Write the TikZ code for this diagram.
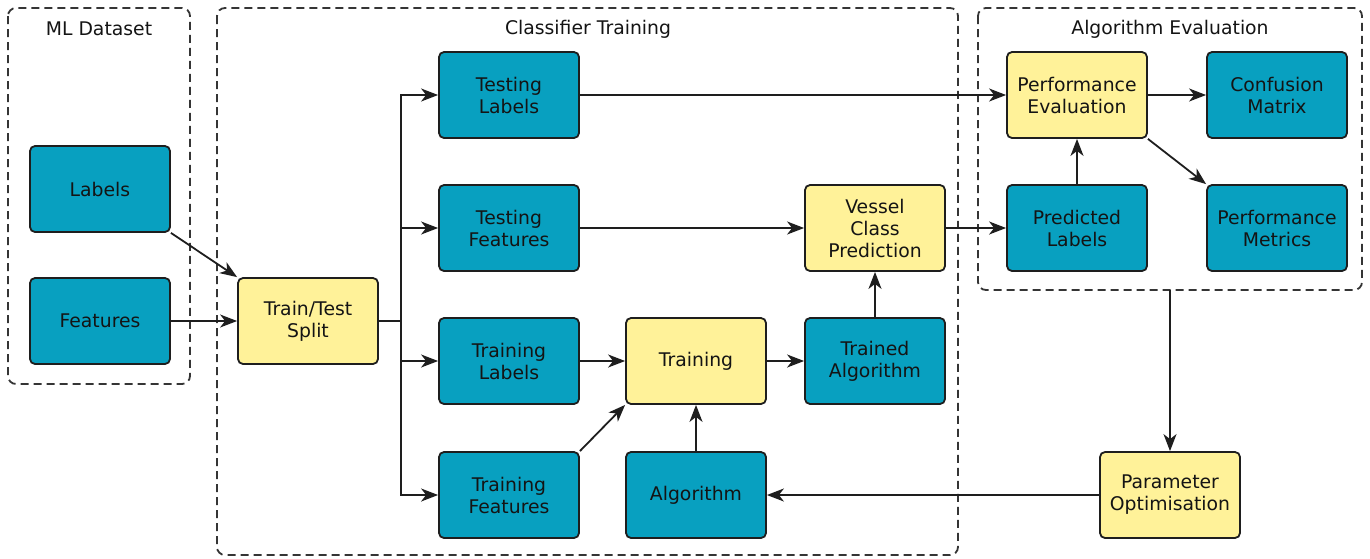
\documentclass[tikz,border=0pt]{standalone}
\usepackage{fontspec}
\setmainfont{DejaVu Sans}
\usetikzlibrary{arrows.meta}
\definecolor{tealbox}{RGB}{8,160,192}
\definecolor{yelbox}{RGB}{255,242,153}
\definecolor{edge}{RGB}{30,30,30}
\tikzset{
  base/.style={draw=edge, line width=1.8pt, rounded corners=5pt, minimum width=140pt, minimum height=86pt, align=center, font=\fontsize{18.8}{22}\selectfont, text=black!92},
  tbox/.style={base, fill=tealbox},
  ybox/.style={base, fill=yelbox},
  frame/.style={draw=edge!90, line width=1.8pt, dash pattern=on 8pt off 5pt, rounded corners=8pt},
  title/.style={font=\fontsize{18.8}{22}\selectfont, text=black!92},
  arr/.style={draw=edge, line width=1.8pt, -{Stealth[length=17pt,width=13pt,inset=5pt]}},
  ln/.style={draw=edge, line width=1.8pt}
}
\begin{document}
\begin{tikzpicture}[x=1pt,y=-1pt]
\useasboundingbox (0,0) rectangle (1370,558);
% frames
\draw[frame] (8,8) rectangle (190,384);
\draw[frame] (217,8) rectangle (958,555);
\draw[frame] (978,8) rectangle (1362,290);
\coordinate (aebot) at (1170,290);
\node[title] (t1) at (99,29) {ML Dataset};
\node[title] (t2) at (588,29) {Classifier Training};
\node[title] (t3) at (1170,29) {Algorithm Evaluation};
% nodes
\node[tbox] (lab) at (100,189) {Labels};
\node[tbox] (fea) at (100,321) {Features};
\node[ybox] (tts) at (308,321) {Train/Test\\Split};
\node[tbox] (tl) at (509,95) {Testing\\Labels};
\node[tbox] (tf) at (509,228) {Testing\\Features};
\node[tbox] (trl) at (509,361) {Training\\Labels};
\node[tbox] (trf) at (509,495) {Training\\Features};
\node[ybox] (tr) at (696,361) {Training};
\node[tbox] (alg) at (696,495) {Algorithm};
\node[tbox] (ta) at (875,361) {Trained\\Algorithm};
\node[ybox] (vcp) at (875,228) {Vessel\\Class\\Prediction};
\node[ybox] (pe) at (1077,95) {Performance\\Evaluation};
\node[tbox] (cm) at (1277,95) {Confusion\\Matrix};
\node[tbox] (pl) at (1077,228) {Predicted\\Labels};
\node[tbox] (pm) at (1277,228) {Performance\\Metrics};
\node[ybox] (po) at (1170,495) {Parameter\\Optimisation};
% connectors
\draw[arr] (lab.south east) -- (tts.north west);
\draw[arr] (fea) -- (tts);
\coordinate (split) at (401,321);
\draw[ln] (tts.east) -- (split);
\draw[arr] (split) |- (tl.west);
\draw[arr] (split) |- (tf.west);
\draw[arr] (split) |- (trl.west);
\draw[arr] (split) |- (trf.west);
\draw[arr] (tl) -- (pe);
\draw[arr] (tf) -- (vcp);
\draw[arr] (vcp) -- (pl);
\draw[arr] (trl) -- (tr);
\draw[arr] (trf.north east) -- (tr.south west);
\draw[arr] (alg) -- (tr);
\draw[arr] (tr) -- (ta);
\draw[arr] (ta) -- (vcp);
\draw[arr] (pl) -- (pe);
\draw[arr] (pe) -- (cm);
\draw[arr] (pe.south east) -- (pm.north west);
\draw[arr] (aebot) -- (po.north);
\draw[arr] (po) -- (alg);
\end{tikzpicture}
\end{document}
